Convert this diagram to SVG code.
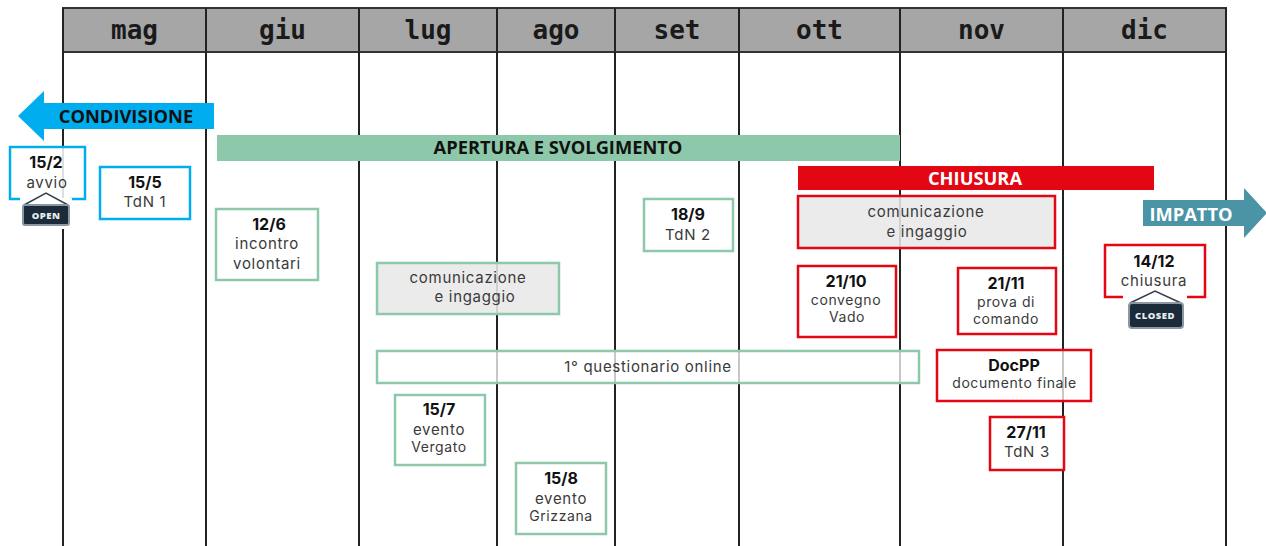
<svg xmlns="http://www.w3.org/2000/svg" width="1266" height="546" viewBox="0 0 1266 546">
<style>
text{font-family:"Inter","Open Sans","Liberation Sans",sans-serif;fill:#3a3a3a;text-anchor:middle;font-size:15px;letter-spacing:.7px}
.d{font-weight:700;fill:#111;font-size:16px;letter-spacing:0}
.s{font-size:14px;letter-spacing:.6px}
.m{font-family:"DejaVu Sans Mono","Liberation Mono",monospace;font-weight:700;font-size:26px;fill:#1a1a1a;letter-spacing:0}
.b{font-family:"Open Sans","Liberation Sans",sans-serif;font-weight:700;font-size:18.300px;letter-spacing:0}
.g{fill:#fff;stroke:#8cc8a9;stroke-width:2.500}
.r{fill:#fff;stroke:#e30613;stroke-width:2.500}
.c{fill:#fff;stroke:#00aeef;stroke-width:2.500}
.gf{fill:#e8e8e8;fill-opacity:.88}
.fa{fill-opacity:.75}
.t{fill:#fff;fill-opacity:.85}
.grid{stroke:#222;stroke-width:2;fill:none}
.sign{fill:#1b2b3a;stroke:#8b98a3;stroke-width:2}
.hook{fill:none;stroke:#33404c;stroke-width:1.500}
.st{font-family:"Open Sans","Liberation Sans",sans-serif;font-weight:800;fill:#e8edf0;font-size:9.500px;letter-spacing:.5px}
</style>
<rect x="0" y="0" width="1266" height="546" fill="#fff"/>
<g id="header">
<rect x="63" y="8" width="1163" height="44" fill="#a6a6a6" stroke="#333" stroke-width="2"/>
<text class="m" x="134.500" y="39">mag</text>
<text class="m" x="282.500" y="39">giu</text>
<text class="m" x="428" y="39">lug</text>
<text class="m" x="556" y="39">ago</text>
<text class="m" x="677" y="39">set</text>
<text class="m" x="819.500" y="39">ott</text>
<text class="m" x="981.500" y="39">nov</text>
<text class="m" x="1144.500" y="39">dic</text>
</g>
<g id="connectors" class="grid">
<path d="M63 8V546M206 8V546M359 8V546M497 8V546M615 8V546M739 8V546M900 8V546M1063 8V546M1226 8V546"/>
</g>
<g id="condivisione">
<path d="M18 116L44 91V103H214V129H44V141Z" fill="#00aeef"/>
<text class="b" x="126" y="123" style="fill:#111">CONDIVISIONE</text>
</g>
<g id="apertura">
<rect x="217" y="135" width="683" height="26" fill="#8cc8a9"/>
<text class="b" x="558" y="154" style="fill:#111">APERTURA E SVOLGIMENTO</text>
</g>
<g id="chiusura">
<rect x="798" y="166" width="356" height="24" fill="#e30613"/>
<text class="b" x="975" y="185" style="fill:#fff">CHIUSURA</text>
</g>
<g id="impatto">
<path d="M1143 200H1244V188L1267 213L1244 238V226H1143Z" fill="#4a94a6"/>
<text class="b" x="1191" y="221" style="fill:#fff">IMPATTO</text>
</g>
<g id="n15-2">
<rect class="t" x="10" y="147" width="75" height="52"/>
<path d="M20 199H10V147H85V199H70" fill="none" stroke="#00aeef" stroke-width="2.500"/>
<text class="d" x="46" y="168">15/2</text>
<text x="47" y="188">avvio</text>
<rect x="20" y="198" width="52" height="31" fill="#fff"/>
<path class="hook" d="M24 205L46 193L68 205"/>
<rect class="sign" x="23" y="205" width="46" height="20" rx="2"/>
<text class="st" x="46" y="219">OPEN</text>
</g>
<g id="n15-5">
<rect class="c" x="100" y="167" width="90" height="52"/>
<text class="d" x="145" y="188">15/5</text>
<text x="145" y="207">TdN 1</text>
</g>
<g id="n12-6">
<rect class="g" x="216" y="209" width="102" height="71"/>
<text class="d" x="269" y="230">12/6</text>
<text x="267" y="249">incontro</text>
<text x="267" y="269">volontari</text>
</g>
<g id="n18-9">
<rect class="g" x="644" y="199" width="89" height="52"/>
<text class="d" x="688" y="220">18/9</text>
<text x="688" y="240">TdN 2</text>
</g>
<g id="com1">
<rect class="g gf" x="377" y="263" width="182" height="51"/>
<text x="468" y="283">comunicazione</text>
<text x="475" y="302">e ingaggio</text>
</g>
<g id="com2">
<rect class="r gf" x="798" y="196" width="257" height="52"/>
<text x="926" y="217">comunicazione</text>
<text x="927" y="237">e ingaggio</text>
</g>
<g id="n21-10">
<rect class="r" x="798" y="266" width="98" height="71"/>
<text class="d" x="846" y="287">21/10</text>
<text class="s" x="846" y="305">convegno</text>
<text class="s" x="847" y="322">Vado</text>
</g>
<g id="n21-11">
<rect class="r" x="958" y="268" width="98" height="66"/>
<text class="d" x="1006" y="289">21/11</text>
<text class="s" x="1006" y="307">prova di</text>
<text class="s" x="1006" y="324">comando</text>
</g>
<g id="questionario">
<rect class="g fa" x="377" y="351" width="542" height="32"/>
<text x="648" y="372">1° questionario online</text>
</g>
<g id="docpp">
<rect class="r fa" x="937" y="350" width="154" height="51"/>
<text class="d" x="1014" y="371">DocPP</text>
<text class="s" x="1014.500" y="388">documento finale</text>
</g>
<g id="n27-11">
<rect class="r" x="990" y="417" width="74" height="53"/>
<text class="d" x="1026" y="438">27/11</text>
<text x="1027" y="457">TdN 3</text>
</g>
<g id="n15-7">
<rect class="g" x="395" y="395" width="90" height="70"/>
<text class="d" x="439" y="415">15/7</text>
<text x="439" y="435">evento</text>
<text class="s" x="439" y="452">Vergato</text>
</g>
<g id="n15-8">
<rect class="g" x="516" y="463" width="90" height="71"/>
<text class="d" x="561" y="484">15/8</text>
<text x="561" y="504">evento</text>
<text class="s" x="561" y="521">Grizzana</text>
</g>
<g id="n14-12">
<rect fill="#fff" x="1105" y="245" width="100" height="52"/>
<path d="M1123 297H1105V245H1205V297H1187" fill="none" stroke="#e30613" stroke-width="2.500"/>
<text class="d" x="1154" y="267">14/12</text>
<text x="1154" y="286">chiusura</text>
<path class="hook" d="M1130 303L1155 291L1181 303"/>
<rect class="sign" x="1129" y="303" width="54" height="25" rx="3"/>
<text class="st" x="1155" y="319">CLOSED</text>
</g>
</svg>
